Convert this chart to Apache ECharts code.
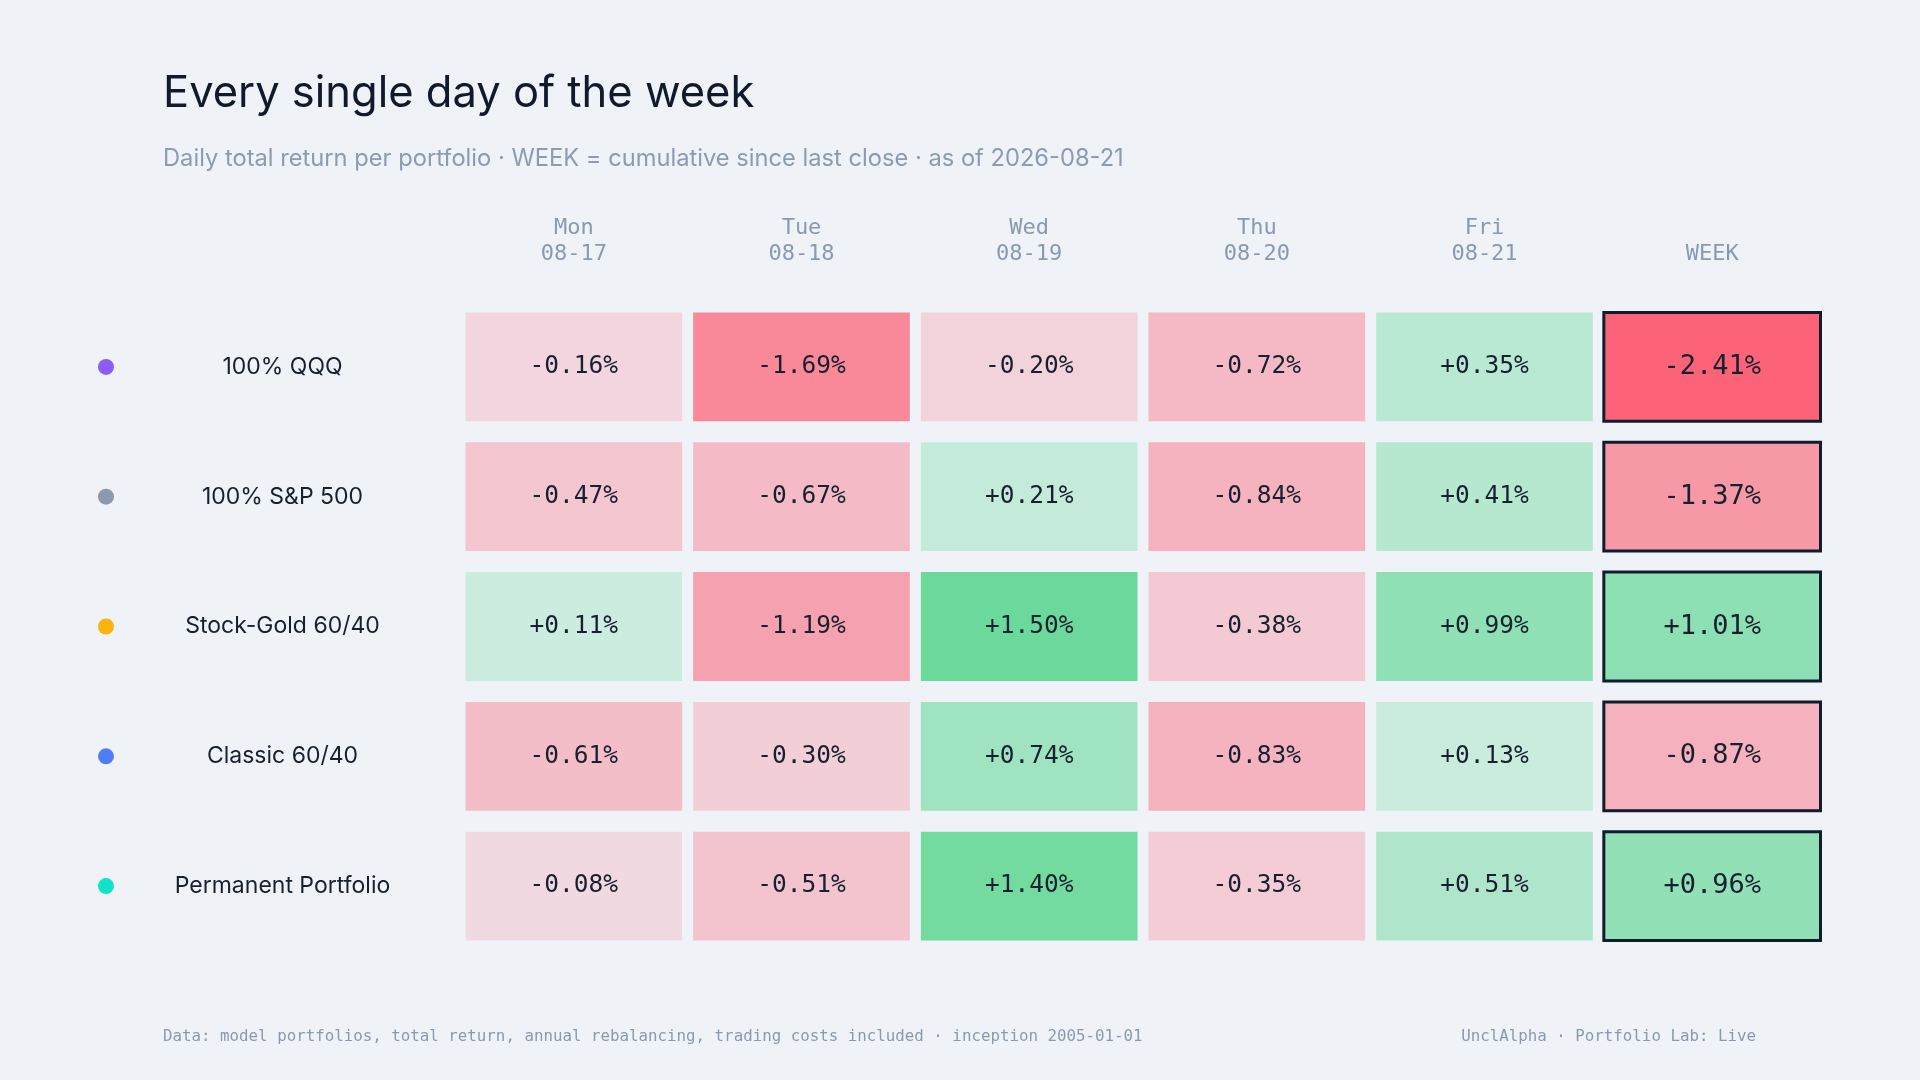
<!DOCTYPE html>
<html>
<head>
<meta charset="utf-8">
<title>Every single day of the week</title>
<script src="https://cdn.jsdelivr.net/npm/echarts@6/dist/echarts.min.js"></script>
<style>
  html, body { margin: 0; padding: 0; background: #eff3f8; }
  #chart { width: 1920px; height: 1080px; }
</style>
</head>
<body>
<div id="chart"></div>
<script>
// portfolios (rows, top to bottom) and their marker colours
const portfolios = ['100% QQQ', '100% S&P 500', 'Stock-Gold 60/40', 'Classic 60/40', 'Permanent Portfolio'];
const dotColors = ['#8b5cf6', '#8c9aab', '#fbb40b', '#4f7dfa', '#12e2c8'];

// columns: trading days + cumulative week
const dayNames = ['Mon', 'Tue', 'Wed', 'Thu', 'Fri'];
const dayDates = ['08-17', '08-18', '08-19', '08-20', '08-21'];
const weekLabel = 'WEEK';

// daily total return in %, one array per portfolio (Mon..Fri)
const qqqDaily = [-0.16, -1.69, -0.20, -0.72, 0.35];
const spxDaily = [-0.47, -0.67, 0.21, -0.84, 0.41];
const stockGoldDaily = [0.11, -1.19, 1.50, -0.38, 0.99];
const classicDaily = [-0.61, -0.30, 0.74, -0.83, 0.13];
const permanentDaily = [-0.08, -0.51, 1.40, -0.35, 0.51];
const dailyReturns = [qqqDaily, spxDaily, stockGoldDaily, classicDaily, permanentDaily];

// cumulative week return in %, same row order
const weekReturns = [-2.41, -1.37, 1.01, -0.87, 0.96];

const BG = '#eff3f8';
const INK = '#17202e';
const MUTED = '#8a9aae';
const SANS = 'Inter, "Noto Sans", sans-serif';
const MONO = '"DejaVu Sans Mono", monospace';
const GAP_X = 11;   // horizontal gap between cells
const GAP_Y = 21;   // vertical gap between cells

// colour scale: tint strength grows with |value|, red below 0, green above
const NEG_RGB = [252, 99, 120];
const POS_RGB = [46, 205, 112];
const BG_RGB = [239, 243, 248];
const absMax = Math.max(...dailyReturns.flat().map(Math.abs), ...weekReturns.map(Math.abs));

function cellColor(v) {
  const base = v < 0 ? NEG_RGB : POS_RGB;
  const a = 0.15 + 0.85 * Math.min(1, Math.abs(v) / absMax);
  const mix = base.map((c, i) => Math.round(BG_RGB[i] + (c - BG_RGB[i]) * a));
  return `rgb(${mix.join(',')})`;
}

function fmtPct(v) {
  return (v > 0 ? '+' : v < 0 ? '-' : '') + Math.abs(v).toFixed(2) + '%';
}

// header labels and heatmap tuples [col, row, value]
const columnLabels = dayNames.map((d, i) => `${d}\n${dayDates[i]}`).concat(weekLabel);
const WEEK_COL = columnLabels.length - 1;
const cells = [];
portfolios.forEach((_, r) => {
  dailyReturns[r].forEach((v, c) => cells.push([c, r, v]));
  cells.push([WEEK_COL, r, weekReturns[r]]);
});

// draw one cell: tinted rect + value, WEEK column gets a dark frame
function renderCell(params, api) {
  const col = api.value(0);
  const v = api.value(2);
  const center = api.coord([col, api.value(1)]);
  const w = api.size([1, 0])[0] - GAP_X;
  const h = api.size([0, 1])[1] - GAP_Y;
  const isWeek = col === WEEK_COL;
  return {
    type: 'group',
    children: [
      {
        type: 'rect',
        shape: { x: center[0] - w / 2, y: center[1] - h / 2, width: w, height: h },
        style: {
          fill: cellColor(v),
          stroke: isWeek ? '#111c2c' : null,
          lineWidth: isWeek ? 3 : 0
        }
      },
      {
        type: 'text',
        x: center[0],
        y: center[1],
        style: {
          text: fmtPct(v),
          fill: INK,
          font: `${isWeek ? 27 : 24.5}px ${MONO}`,
          align: 'center',
          verticalAlign: 'middle'
        }
      }
    ]
  };
}

// rich styles for the row labels (coloured dot + centred name)
const labelRich = { name: { width: 337, align: 'center', fontSize: 23, fontFamily: SANS, color: INK } };
dotColors.forEach((c, i) => {
  labelRich['dot' + i] = { width: 16, height: 16, borderRadius: 8, backgroundColor: c };
});

const option = {
  backgroundColor: BG,
  animation: false,
  title: [
    {
      text: 'Every single day of the week',
      left: 163, top: 72, padding: 0,
      textStyle: { fontFamily: SANS, fontSize: 43.5, fontWeight: 'normal', color: '#111a2b' }
    },
    {
      text: 'Daily total return per portfolio · WEEK = cumulative since last close · as of 2026-08-21',
      left: 163, top: 147, padding: 0,
      textStyle: { fontFamily: SANS, fontSize: 23.7, fontWeight: 'normal', color: '#8c9bb0' }
    },
    {
      text: 'Data: model portfolios, total return, annual rebalancing, trading costs included · inception 2005-01-01',
      left: 163, top: 1029, padding: 0,
      textStyle: { fontFamily: MONO, fontSize: 15.8, fontWeight: 'normal', color: MUTED }
    },
    {
      text: 'UnclAlpha · Portfolio Lab: Live',
      right: 164, top: 1029, padding: 0,
      textStyle: { fontFamily: MONO, fontSize: 15.8, fontWeight: 'normal', color: MUTED }
    }
  ],
  grid: { left: 460, right: 94, top: 302, bottom: 129 },
  xAxis: {
    type: 'category',
    position: 'top',
    data: columnLabels,
    axisLine: { show: false },
    axisTick: { show: false },
    splitLine: { show: false },
    axisLabel: { fontFamily: MONO, fontSize: 22, lineHeight: 26, color: MUTED, margin: 35 }
  },
  yAxis: {
    type: 'category',
    inverse: true,
    data: portfolios,
    axisLine: { show: false },
    axisTick: { show: false },
    splitLine: { show: false },
    axisLabel: {
      margin: 9,
      formatter: (value, idx) => `{dot${idx}|}{name|${value}}`,
      rich: labelRich
    }
  },
  series: [{
    type: 'custom',
    renderItem: renderCell,
    data: cells,
    encode: { x: 0, y: 1 }
  }]
};

const chart = echarts.init(document.getElementById('chart'));
chart.setOption(option);
</script>
</body>
</html>
